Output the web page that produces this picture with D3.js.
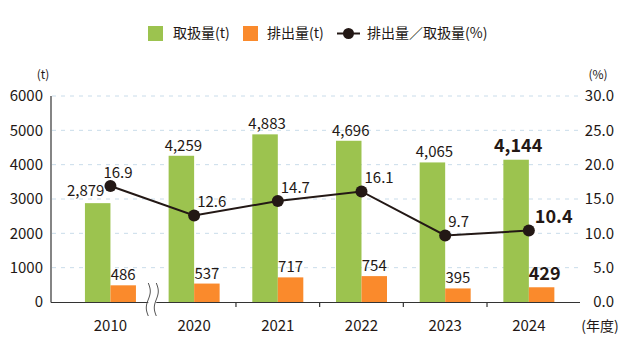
<!DOCTYPE html>
<html>
<head>
<meta charset="utf-8">
<script src="https://cdn.jsdelivr.net/npm/d3@7"></script>
<style>
  body { margin: 0; background: #fff; }
  svg text { font-family: "Noto Sans CJK JP", "Noto Sans", sans-serif; fill: #231815; }
</style>
</head>
<body>
<div id="chart"></div>
<script>
// data
const years = ["2010", "2020", "2021", "2022", "2023", "2024"];
const handled = [2879, 4259, 4883, 4696, 4065, 4144];   // 取扱量 (t)
const emitted = [486, 537, 717, 754, 395, 429];         // 排出量 (t)
const ratio = [16.9, 12.6, 14.7, 16.1, 9.7, 10.4];      // 排出量／取扱量 (%)
const leftTicks = [0, 1000, 2000, 3000, 4000, 5000, 6000];
const rightTicks = [0, 5, 10, 15, 20, 25, 30];

const width = 623, height = 353;
const green = "#9cc34f", orange = "#fa8a2c", ink = "#231815";

const svg = d3.select("#chart").append("svg")
  .attr("width", width)
  .attr("height", height);

const x = d3.scaleBand().domain(years).range([68.6, 570.7]).padding(0);
const yL = d3.scaleLinear().domain([0, 6000]).range([302, 96]);
const yR = d3.scaleLinear().domain([0, 30]).range([302, 96]);
const barW = 25.5;

// gridlines
svg.append("g")
  .selectAll("line")
  .data(leftTicks.filter(d => d > 0))
  .enter()
  .append("line")
  .attr("x1", 52).attr("x2", 580)
  .attr("y1", d => yL(d)).attr("y2", d => yL(d))
  .attr("stroke", "#c9dcea")
  .attr("stroke-width", 1)
  .attr("stroke-dasharray", "4,5");

// left tick labels
svg.append("g")
  .selectAll("text")
  .data(leftTicks)
  .enter()
  .append("text")
  .attr("x", 43)
  .attr("y", d => yL(d))
  .attr("dy", "0.36em")
  .attr("text-anchor", "end")
  .style("font-size", "15px")
  .text(d => d);

// right tick labels
svg.append("g")
  .selectAll("text")
  .data(rightTicks)
  .enter()
  .append("text")
  .attr("x", 614)
  .attr("y", d => yR(d))
  .attr("dy", "0.36em")
  .attr("text-anchor", "end")
  .style("font-size", "15px")
  .text(d => d.toFixed(1));

// unit labels
svg.append("text").attr("x", 43).attr("y", 79).attr("text-anchor", "middle")
  .style("font-size", "12px").text("(t)");
svg.append("text").attr("x", 598).attr("y", 79).attr("text-anchor", "middle")
  .style("font-size", "12px").text("(%)");
svg.append("text").attr("x", 600).attr("y", 331).attr("text-anchor", "middle")
  .style("font-size", "14px").text("(年度)");

// bars
const groups = svg.append("g")
  .selectAll("g")
  .data(years)
  .enter()
  .append("g");

groups.append("rect")
  .attr("x", (d, i) => x(d) + x.bandwidth() / 2 - barW)
  .attr("y", (d, i) => yL(handled[i]))
  .attr("width", barW)
  .attr("height", (d, i) => yL(0) - yL(handled[i]))
  .attr("fill", green);

groups.append("rect")
  .attr("x", (d, i) => x(d) + x.bandwidth() / 2)
  .attr("y", (d, i) => yL(emitted[i]))
  .attr("width", barW)
  .attr("height", (d, i) => yL(0) - yL(emitted[i]))
  .attr("fill", orange);

// axes lines
svg.append("line")
  .attr("x1", 51).attr("x2", 51).attr("y1", 96).attr("y2", 302.5)
  .attr("stroke", "#333").attr("stroke-width", 1.2);
svg.append("line")
  .attr("x1", 51).attr("x2", 580).attr("y1", 302.5).attr("y2", 302.5)
  .attr("stroke", "#333").attr("stroke-width", 1.2);

// ticks between categories (skip the broken one)
svg.append("g")
  .selectAll("line")
  .data(years.slice(2))
  .enter()
  .append("line")
  .attr("x1", d => x(d)).attr("x2", d => x(d))
  .attr("y1", 302).attr("y2", 307)
  .attr("stroke", "#333").attr("stroke-width", 1.2);

// category labels
svg.append("g")
  .selectAll("text")
  .data(years)
  .enter()
  .append("text")
  .attr("x", d => x(d) + x.bandwidth() / 2)
  .attr("y", 331)
  .attr("text-anchor", "middle")
  .style("font-size", "15px")
  .text(d => d);

// break mark
const bx = x(years[1]);
svg.append("rect").attr("x", bx - 4).attr("y", 298).attr("width", 8).attr("height", 9).attr("fill", "#fff");
[-4, 4].forEach(off => {
  const pts = d3.range(0, 34, 1).map(t => [bx + off + 2 * Math.sin(t / 33 * Math.PI * 2), 283 + t]);
  svg.append("path")
    .attr("d", d3.line()(pts))
    .attr("fill", "none")
    .attr("stroke", "#555")
    .attr("stroke-width", 1);
});

// ratio line
const cx = d => x(d) + x.bandwidth() / 2;
svg.append("path")
  .datum(years)
  .attr("d", d3.line().x(d => cx(d)).y((d, i) => yR(ratio[i])))
  .attr("fill", "none")
  .attr("stroke", ink)
  .attr("stroke-width", 2);

svg.append("g")
  .selectAll("circle")
  .data(years)
  .enter()
  .append("circle")
  .attr("cx", d => cx(d))
  .attr("cy", (d, i) => yR(ratio[i]))
  .attr("r", 6)
  .attr("fill", ink);

// value labels; last year is emphasised
const last = years.length - 1;
const lblSize = i => i === last ? "18px" : "15px";
const lblWeight = i => i === last ? "bold" : "normal";

svg.append("g")
  .selectAll("text")
  .data(years)
  .enter()
  .append("text")
  .attr("x", (d, i) => cx(d) - barW / 2 + (i === 0 ? -12 : i === last ? 2 : 2))
  .attr("y", (d, i) => yL(handled[i]) - (i === 0 ? 7 : i === last ? 8 : 5))
  .attr("text-anchor", "middle")
  .style("font-size", (d, i) => lblSize(i))
  .style("font-weight", (d, i) => lblWeight(i))
  .text((d, i) => d3.format(",")(handled[i]));

svg.append("g")
  .selectAll("text")
  .data(years)
  .enter()
  .append("text")
  .attr("x", (d, i) => cx(d) + barW / 2 + (i === last ? 3 : 0))
  .attr("y", (d, i) => yL(emitted[i]) - (i === last ? 7 : 5))
  .attr("text-anchor", "middle")
  .style("font-size", (d, i) => lblSize(i))
  .style("font-weight", (d, i) => lblWeight(i))
  .text((d, i) => emitted[i]);

svg.append("g")
  .selectAll("text")
  .data(years)
  .enter()
  .append("text")
  .attr("x", (d, i) => cx(d) + (i === 0 ? -7 : i === last ? 6 : 3))
  .attr("y", (d, i) => yR(ratio[i]) - 8)
  .style("font-size", (d, i) => lblSize(i))
  .style("font-weight", (d, i) => lblWeight(i))
  .text((d, i) => ratio[i].toFixed(1));

// legend
const legend = svg.append("g");
legend.append("rect").attr("x", 148).attr("y", 26).attr("width", 15).attr("height", 15).attr("fill", green);
legend.append("text").attr("x", 173).attr("y", 38).style("font-size", "14px").text("取扱量(t)");
legend.append("rect").attr("x", 243).attr("y", 26).attr("width", 15).attr("height", 15).attr("fill", orange);
legend.append("text").attr("x", 267).attr("y", 38).style("font-size", "14px").text("排出量(t)");
legend.append("line").attr("x1", 337).attr("x2", 360).attr("y1", 33.5).attr("y2", 33.5)
  .attr("stroke", ink).attr("stroke-width", 2);
legend.append("circle").attr("cx", 348.5).attr("cy", 33.5).attr("r", 5.5).attr("fill", ink);
legend.append("text").attr("x", 367).attr("y", 38).style("font-size", "14px").text("排出量／取扱量(%)");
</script>
</body>
</html>
